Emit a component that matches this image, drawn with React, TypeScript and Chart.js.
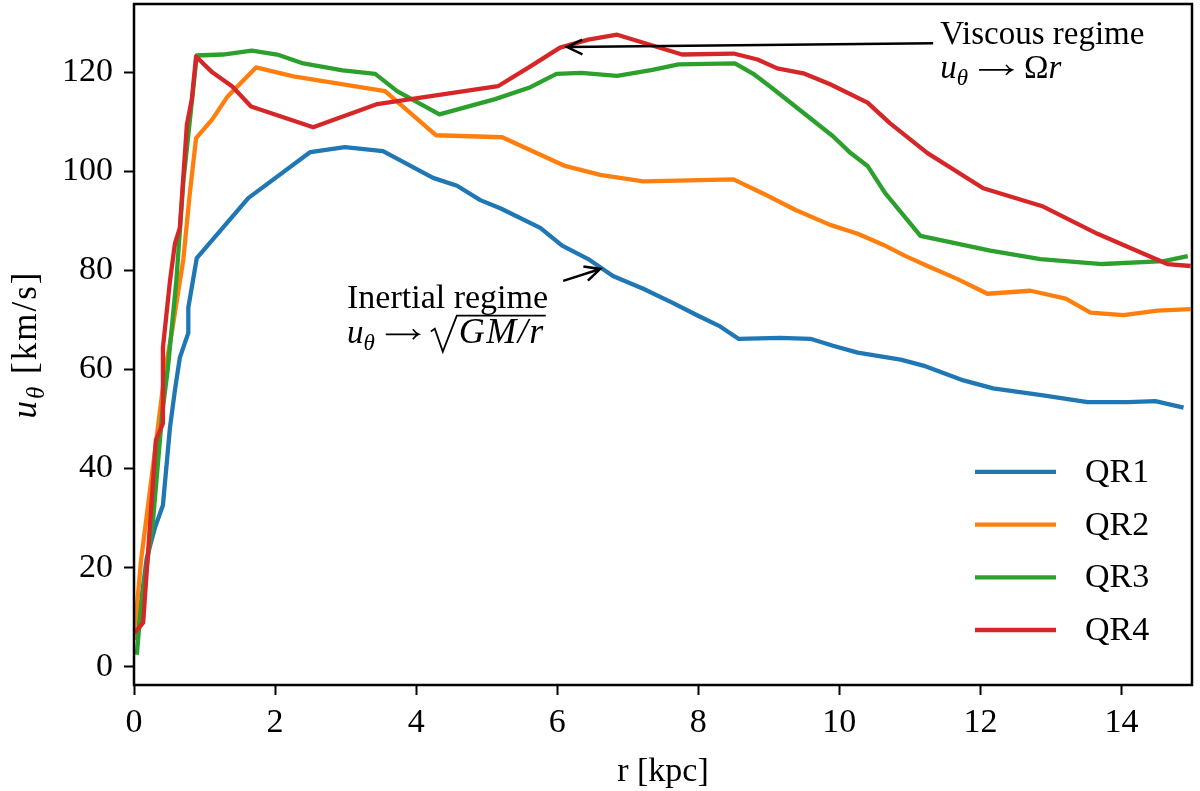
import { useEffect, useRef } from 'react';
import { Chart, registerables } from 'chart.js';
Chart.register(...registerables);

// radius [kpc] and rotation speed [km/s]
const qr1R = [0.03, 0.18, 0.3, 0.41, 0.51, 0.58, 0.65, 0.77, 0.77, 0.89, 1.62, 2.5, 2.99, 3.53, 4.24, 4.58, 4.91, 5.2, 5.76, 6.07, 6.44, 6.79, 7.22, 7.63, 7.99, 8.31, 8.57, 9.16, 9.59, 9.91, 10.26, 10.87, 11.19, 11.76, 12.18, 12.89, 13.52, 14.09, 14.48, 14.88];
const qr1U = [5.4, 21.9, 28.2, 32.6, 48.3, 55.8, 62.4, 67.4, 72.5, 82.5, 94.6, 103.9, 104.9, 104.1, 98.7, 97.1, 94.2, 92.5, 88.6, 85.0, 82.3, 78.9, 76.3, 73.5, 70.9, 68.7, 66.2, 66.4, 66.2, 64.8, 63.4, 62.0, 60.8, 57.8, 56.2, 54.8, 53.4, 53.4, 53.6, 52.3];

const qr2R = [0, 0.1, 0.23, 0.44, 0.54, 0.7, 0.79, 0.88, 1.11, 1.32, 1.73, 2.26, 3.56, 4.28, 5.22, 6.11, 6.61, 7.22, 8.5, 8.91, 9.38, 9.87, 10.26, 10.62, 10.94, 11.25, 11.67, 12.1, 12.71, 13.21, 13.56, 14.03, 14.51, 14.98];
const qr2U = [5.4, 21.5, 36.0, 59.8, 67.8, 82.3, 95.4, 106.7, 110.5, 115.0, 121.0, 119.2, 116.2, 107.3, 106.9, 101.1, 99.3, 98.0, 98.4, 95.6, 92.2, 89.2, 87.4, 85.2, 82.9, 80.9, 78.3, 75.3, 75.9, 74.3, 71.5, 71.0, 71.9, 72.2];

const qr3R = [0.04, 0.09, 0.27, 0.4, 0.48, 0.6, 0.7, 0.89, 1.26, 1.67, 2.03, 2.4, 2.96, 3.42, 3.73, 4.33, 5.12, 5.62, 5.99, 6.34, 6.85, 7.35, 7.72, 8.52, 8.78, 9.05, 9.91, 10.16, 10.4, 10.65, 11.15, 12.14, 12.85, 13.73, 14.6, 14.94];
const qr3U = [2.4, 10.9, 29.6, 51.1, 60.2, 77.9, 98.0, 123.4, 123.6, 124.4, 123.6, 121.8, 120.4, 119.7, 116.2, 111.5, 114.6, 117.0, 119.7, 119.9, 119.3, 120.5, 121.6, 121.8, 119.7, 116.8, 107.1, 103.7, 101.1, 95.6, 87.0, 84.0, 82.3, 81.3, 81.9, 82.9];

const qr4R = [0.01, 0.13, 0.31, 0.41, 0.41, 0.51, 0.58, 0.65, 0.75, 0.82, 0.88, 1.11, 1.39, 1.66, 2.54, 3.45, 5.16, 5.62, 6.04, 6.44, 6.85, 7.77, 8.5, 8.84, 9.12, 9.49, 9.87, 10.4, 10.72, 11.25, 12.04, 12.89, 13.66, 14.65, 14.98];
const qr4U = [6.8, 8.9, 45.7, 49.1, 64.4, 77.9, 85.4, 88.6, 109.5, 114.6, 123.2, 120.0, 117.2, 113.1, 108.9, 113.6, 117.2, 121.2, 125.0, 126.6, 127.6, 123.6, 123.8, 122.6, 120.8, 119.8, 117.6, 113.9, 109.7, 103.7, 96.6, 92.9, 87.4, 81.3, 80.9];

const seriesLabels = ['QR1', 'QR2', 'QR3', 'QR4'];
const seriesColors = ['#1f77b4', '#ff7f0e', '#2ca02c', '#d62728'];
const xTicks = [0, 2, 4, 6, 8, 10, 12, 14];
const yTicks = [0, 20, 40, 60, 80, 100, 120];

// annotation anchors in data units (text baseline of first line, arrow tail -> head)
const viscousText = { x: 11.43, y: 125.7 };
const viscousArrow = { x0: 11.33, y0: 125.9, x1: 6.14, y1: 125.1 };
const inertialText = { x: 3.02, y: 72.5 };
const inertialArrow = { x0: 6.085, y0: 77.9, x1: 6.61, y1: 80.3 };

const SERIF = '"Liberation Serif", "DejaVu Serif", serif';
const FS = 34;

type Part = { t: string; it?: boolean; sub?: boolean; arrow?: boolean };

function partFont(p: Part, size: number) {
  return `${p.it ? 'italic ' : ''}${p.sub ? Math.round(size * 0.7) : size}px ${SERIF}`;
}

// a math-ish arrow is wider than the font's own glyph
const ARROW_W = 56;

function partWidth(ctx: CanvasRenderingContext2D, p: Part, size: number) {
  if (p.arrow) return ARROW_W;
  ctx.font = partFont(p, size);
  return ctx.measureText(p.t).width;
}

function drawParts(ctx: CanvasRenderingContext2D, parts: Part[], x: number, y: number, size: number, align = 'left', spacing = 0) {
  ctx.letterSpacing = `${spacing}px`;
  let w = 0;
  for (const p of parts) w += partWidth(ctx, p, size);
  let cx = align === 'center' ? x - w / 2 : x;
  ctx.textAlign = 'left';
  ctx.textBaseline = 'alphabetic';
  for (const p of parts) {
    const pw = partWidth(ctx, p, size);
    if (p.arrow) {
      const ay = y - size * 0.25;
      const x0 = cx + 11, x1 = cx + pw - 12;
      ctx.save();
      ctx.lineWidth = 1.6;
      ctx.beginPath();
      ctx.moveTo(x0, ay);
      ctx.lineTo(x1, ay);
      ctx.moveTo(x1 - 6, ay - 5);
      ctx.quadraticCurveTo(x1 - 3, ay - 1, x1, ay);
      ctx.quadraticCurveTo(x1 - 3, ay + 1, x1 - 6, ay + 5);
      ctx.stroke();
      ctx.restore();
    } else {
      ctx.font = partFont(p, size);
      ctx.fillText(p.t, cx, y + (p.sub ? size * 0.22 : 0));
    }
    cx += pw;
  }
  ctx.letterSpacing = '0px';
  return cx;
}

function drawArrow(ctx: CanvasRenderingContext2D, x0: number, y0: number, x1: number, y1: number) {
  const ang = Math.atan2(y1 - y0, x1 - x0);
  const L = 17, H = 0.45;
  ctx.beginPath();
  ctx.moveTo(x0, y0);
  ctx.lineTo(x1, y1);
  ctx.moveTo(x1 - L * Math.cos(ang - H), y1 - L * Math.sin(ang - H));
  ctx.lineTo(x1, y1);
  ctx.lineTo(x1 - L * Math.cos(ang + H), y1 - L * Math.sin(ang + H));
  ctx.stroke();
}

const decorations = {
  id: 'decorations',
  afterDatasetsDraw(chart: any) {
    const { ctx, chartArea: a, scales } = chart;
    const sx = (v: number) => scales.x.getPixelForValue(v);
    const sy = (v: number) => scales.y.getPixelForValue(v);
    ctx.save();
    ctx.fillStyle = '#000';
    ctx.strokeStyle = '#000';

    // axes frame
    ctx.lineWidth = 2.5;
    ctx.strokeRect(a.left, a.top, a.right - a.left, a.bottom - a.top);

    // axis titles
    drawParts(ctx, [{ t: 'r [kpc]' }], (a.left + a.right) / 2, 781, FS, 'center');
    ctx.save();
    ctx.translate(36, (a.top + a.bottom) / 2);
    ctx.rotate(-Math.PI / 2);
    drawParts(ctx, [{ t: 'u', it: true }, { t: 'θ', it: true, sub: true }, { t: ' [km/s]' }], 0, 0, 35, 'center', 2);
    ctx.restore();

    // arrows
    ctx.lineWidth = 2.5;
    drawArrow(ctx, sx(viscousArrow.x0), sy(viscousArrow.y0), sx(viscousArrow.x1), sy(viscousArrow.y1));
    drawArrow(ctx, sx(inertialArrow.x0), sy(inertialArrow.y0), sx(inertialArrow.x1), sy(inertialArrow.y1));

    // viscous note
    const vx = sx(viscousText.x), vy = sy(viscousText.y);
    drawParts(ctx, [{ t: 'Viscous regime' }], vx, vy, 33);
    drawParts(ctx, [{ t: 'u', it: true }, { t: 'θ', it: true, sub: true }, { t: '', arrow: true }, { t: 'Ω' }, { t: 'r', it: true }], vx, vy + 34, 33);

    // inertial note
    const ix = sx(inertialText.x), iy = sy(inertialText.y);
    drawParts(ctx, [{ t: 'Inertial regime' }], ix, iy, 34);
    const yb = iy + 35;
    const cx = drawParts(ctx, [{ t: 'u', it: true }, { t: 'θ', it: true, sub: true }, { t: '', arrow: true }], ix, yb, 33);
    ctx.font = partFont({ t: 'GM/r', it: true }, 36);
    ctx.letterSpacing = '1.5px';
    const innerW = ctx.measureText('GM/r').width;
    ctx.letterSpacing = '0px';
    const rx = cx;
    ctx.lineWidth = 1.8;
    ctx.beginPath();
    ctx.moveTo(rx, yb - 11);
    ctx.lineTo(rx + 4, yb - 14);
    ctx.lineTo(rx + 12, yb + 9);
    ctx.lineTo(rx + 26, yb - 27);
    ctx.lineTo(rx + 29 + innerW, yb - 27);
    ctx.stroke();
    drawParts(ctx, [{ t: 'GM/r', it: true }], rx + 28, yb, 36, 'left', 1.5);

    // legend
    const n = chart.data.datasets.length;
    chart.data.datasets.forEach((ds: any, i: number) => {
      const y = a.bottom - 55 - (n - 1 - i) * 52.7;
      ctx.strokeStyle = ds.borderColor;
      ctx.lineWidth = 4.3;
      ctx.beginPath();
      ctx.moveTo(a.right - 217, y);
      ctx.lineTo(a.right - 136, y);
      ctx.stroke();
      ctx.fillStyle = '#000';
      ctx.font = `${FS}px ${SERIF}`;
      ctx.textAlign = 'left';
      ctx.textBaseline = 'middle';
      ctx.fillText(ds.label, a.right - 107, y + 1);
    });
    ctx.restore();
  },
};

export default function App() {
  const canvasRef = useRef<HTMLCanvasElement>(null);

  useEffect(() => {
    if (!canvasRef.current) return;
    const rs = [qr1R, qr2R, qr3R, qr4R];
    const us = [qr1U, qr2U, qr3U, qr4U];

    const chart = new Chart(canvasRef.current, {
      type: 'line',
      data: {
        datasets: seriesLabels.map((label, i) => ({
          label,
          data: rs[i].map((r, j) => ({ x: r, y: us[i][j] })),
          borderColor: seriesColors[i],
          borderWidth: 4.3,
          pointRadius: 0,
          tension: 0,
          fill: false,
          borderJoinStyle: 'round' as const,
          order: seriesLabels.length - i,
        })),
      },
      options: {
        responsive: true,
        maintainAspectRatio: false,
        animation: false,
        layout: { padding: { top: 4, right: 8, left: 0, bottom: 0 } },
        plugins: { legend: { display: false }, tooltip: { enabled: false } },
        scales: {
          x: {
            type: 'linear',
            min: 0,
            max: 15,
            afterBuildTicks: (s: any) => { s.ticks = xTicks.map(v => ({ value: v })); },
            afterFit: (s: any) => { s.height = 106; s.paddingLeft = 0; s.paddingRight = 0; },
            border: { display: false },
            grid: { drawOnChartArea: false, drawTicks: true, tickLength: 10, tickWidth: 2, tickColor: '#000' },
            ticks: { color: '#000', padding: 8, maxRotation: 0, font: { size: FS, family: SERIF } },
          },
          y: {
            type: 'linear',
            min: -3.7,
            max: 133.8,
            afterBuildTicks: (s: any) => { s.ticks = yTicks.map(v => ({ value: v })); },
            afterFit: (s: any) => { s.width = 134; s.paddingTop = 0; s.paddingBottom = 0; },
            border: { display: false },
            grid: { drawOnChartArea: false, drawTicks: true, tickLength: 10, tickWidth: 2, tickColor: '#000' },
            ticks: { color: '#000', padding: 11, font: { size: FS, family: SERIF } },
          },
        },
      },
      plugins: [decorations],
    });

    return () => { chart.destroy(); };
  }, []);

  return (
    <div style={{ position: 'fixed', left: 0, top: 0, width: 1200, height: 791, background: '#fff' }}>
      <canvas ref={canvasRef} role="img" aria-label="Rotation curves u_theta versus r for QR1 to QR4" />
    </div>
  );
}
